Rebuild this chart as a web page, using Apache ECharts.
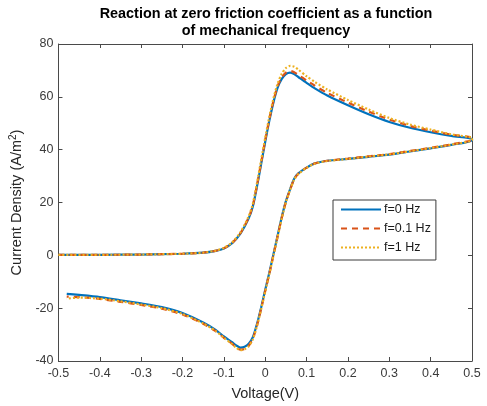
<!DOCTYPE html>
<html>
<head>
<meta charset="utf-8">
<script src="https://cdn.jsdelivr.net/npm/echarts@6/dist/echarts.min.js"></script>
<style>
  html, body { margin: 0; padding: 0; background: #fff; }
  #chart { width: 487px; height: 406px; }
</style>
</head>
<body>
<div id="chart"></div>
<script>
// Cyclic voltammetry sweep: forward scan -0.5 V -> 0.5 V, then reverse back
const voltageForward = [-0.5, -0.4, -0.3, -0.2, -0.15, -0.12, -0.1, -0.08, -0.06, -0.04, -0.03, -0.02, -0.01, 0,
  0.01, 0.02, 0.03, 0.04, 0.05, 0.06, 0.07, 0.08, 0.1, 0.12, 0.15, 0.2, 0.25, 0.3, 0.35, 0.4, 0.45, 0.5];
const voltageReverse = [0.5, 0.45, 0.4, 0.35, 0.3, 0.25, 0.2, 0.15, 0.12, 0.1, 0.08, 0.07, 0.06, 0.05, 0.04, 0.03,
  0.02, 0.01, 0, -0.01, -0.02, -0.03, -0.04, -0.05, -0.06, -0.07, -0.08, -0.1, -0.12, -0.15, -0.2, -0.25,
  -0.3, -0.35, -0.4, -0.45, -0.48];

// Current density (A/m^2) for each mechanical frequency
const f0Forward = [0.2, 0.2, 0.3, 0.6, 1.0, 1.7, 2.6, 4.6, 8.2, 14.0, 18.5, 26.0, 34.5, 43.0,
  51.0, 58.0, 63.5, 66.8, 68.6, 69.2, 68.6, 67.5, 65.3, 63.2, 60.5, 56.8, 53.4, 50.5, 48.3, 46.6, 45.2, 44.1];
const f0Reverse = [43.5, 41.8, 40.5, 39.3, 38.1, 37.3, 36.5, 35.8, 34.8, 33.2, 31.0, 29.0, 25.0, 20.5, 14.5, 7.5,
  0.5, -6.5, -13.0, -19.8, -26.0, -31.0, -33.5, -34.6, -34.9, -34.1, -32.9, -30.7, -28.2, -25.4, -21.8, -19.6,
  -18.2, -17.0, -15.8, -15.0, -14.6];

const f01Forward = [0.2, 0.2, 0.3, 0.6, 1.0, 1.7, 2.7, 4.7, 8.4, 14.3, 18.9, 26.5, 35.0, 43.6,
  51.6, 58.6, 64.1, 67.4, 69.2, 69.8, 69.3, 68.3, 66.2, 64.2, 61.5, 57.8, 54.4, 51.4, 49.0, 47.2, 45.7, 44.5];
const f01Reverse = [43.8, 42.0, 40.7, 39.5, 38.3, 37.5, 36.6, 35.8, 34.8, 33.2, 30.9, 28.8, 24.8, 20.2, 14.2, 7.2,
  0.2, -6.9, -13.5, -20.3, -26.6, -31.6, -34.2, -35.4, -35.7, -34.8, -33.5, -31.2, -28.7, -25.9, -22.4, -20.2,
  -18.8, -17.6, -16.5, -15.8, -15.6];

const f1Forward = [0.2, 0.2, 0.3, 0.6, 1.0, 1.8, 2.8, 4.9, 8.7, 14.8, 19.5, 27.3, 36.0, 44.5,
  52.5, 59.5, 65.0, 68.7, 70.9, 71.7, 71.4, 70.3, 67.8, 65.6, 62.8, 58.8, 55.2, 52.0, 49.5, 47.6, 45.8, 44.4];
const f1Reverse = [43.6, 41.9, 40.6, 39.4, 38.2, 37.4, 36.5, 35.7, 34.7, 33.1, 30.8, 28.7, 24.7, 20.1, 14.0, 7.0,
  0.0, -7.1, -13.7, -20.5, -26.8, -31.8, -34.4, -35.6, -35.9, -35.0, -33.6, -31.2, -28.6, -25.8, -22.2, -20.0,
  -18.6, -17.4, -16.4, -16.0, -16.4];

const seriesNames = ['f=0 Hz', 'f=0.1 Hz', 'f=1 Hz'];
const xTicks = { min: -0.5, max: 0.5, interval: 0.1 };
const yTicks = { min: -40, max: 80, interval: 20 };

function sweep(fwd, rev) {
  return voltageForward.map((v, i) => [v, fwd[i]])
    .concat(voltageReverse.map((v, i) => [v, rev[i]]));
}

const FONT = 'Liberation Sans, Arial, sans-serif';
const axisColor = '#4a4a4a';
const labelFont = { color: '#3a3a3a', fontSize: 12.5, fontFamily: FONT };

function xAxisDef(pos, withLabels) {
  return {
    type: 'value', position: pos, min: xTicks.min, max: xTicks.max, interval: xTicks.interval,
    axisLine: { show: true, onZero: false, lineStyle: { color: axisColor, width: 1 } },
    axisTick: { show: true, inside: true, length: 4, lineStyle: { color: axisColor } },
    axisLabel: Object.assign({ show: withLabels, margin: 6,
      formatter: v => (Math.abs(v) < 1e-9 ? '0' : String(Math.round(v * 10) / 10)) }, labelFont),
    splitLine: { show: false }
  };
}
function yAxisDef(pos, withLabels) {
  return {
    type: 'value', position: pos, min: yTicks.min, max: yTicks.max, interval: yTicks.interval,
    axisLine: { show: true, onZero: false, lineStyle: { color: axisColor, width: 1 } },
    axisTick: { show: true, inside: true, length: 4, lineStyle: { color: axisColor } },
    axisLabel: Object.assign({ show: withLabels, margin: 5 }, labelFont),
    splitLine: { show: false }
  };
}

const xBottom = xAxisDef('bottom', true);
xBottom.name = 'Voltage(V)';
xBottom.nameLocation = 'middle';
xBottom.nameGap = 25;
xBottom.nameTextStyle = { color: '#262626', fontSize: 14.5, fontFamily: FONT };

const yLeft = yAxisDef('left', true);
yLeft.name = 'Current Density (A/m{sup|2})';
yLeft.nameLocation = 'middle';
yLeft.nameGap = 28;
yLeft.nameTextStyle = {
  color: '#262626', fontSize: 14.5, fontFamily: FONT,
  rich: { sup: { fontSize: 10, verticalAlign: 'top', padding: [0, 0, 8, 0], color: '#262626', fontFamily: FONT } }
};

const styles = [
  { color: '#0072BD', width: 2.2, type: 'solid' },
  { color: '#D95319', width: 2.2, type: [6, 5] },
  { color: '#EDB120', width: 2.2, type: [2, 2] }
];
const data = [sweep(f0Forward, f0Reverse), sweep(f01Forward, f01Reverse), sweep(f1Forward, f1Reverse)];

const chart = echarts.init(document.getElementById('chart'), null, { renderer: 'canvas' });
chart.setOption({
  animation: false,
  backgroundColor: '#ffffff',
  title: {
    text: 'Reaction at zero friction coefficient as a function\nof mechanical frequency',
    left: 266, top: 6, padding: 0, textAlign: 'center',
    textStyle: { color: '#000', fontSize: 14.4, fontWeight: 'bold', lineHeight: 17, fontFamily: FONT }
  },
  grid: { left: 57, right: 15, top: 44, bottom: 45, containLabel: false },
  xAxis: [xBottom, xAxisDef('top', false)],
  yAxis: [yLeft, yAxisDef('right', false)],
  legend: {
    orient: 'vertical', left: 333, top: 200,
    data: seriesNames,
    itemWidth: 40, itemHeight: 14, itemGap: 6,
    padding: [3, 5, 6, 7],
    itemStyle: { opacity: 0 },
    backgroundColor: '#fff', borderColor: '#3a3a3a', borderWidth: 1, borderRadius: 0,
    textStyle: { color: '#1a1a1a', fontSize: 12.5, padding: [0, 0, 0, -2], fontFamily: FONT }
  },
  series: seriesNames.map((name, i) => ({
    name, type: 'line', xAxisIndex: 0, yAxisIndex: 0,
    data: data[i], symbol: 'none', showSymbol: false, smooth: 0.25,
    itemStyle: { color: styles[i].color },
    lineStyle: { color: styles[i].color, width: styles[i].width, type: styles[i].type },
    z: 2 + i
  }))
});
</script>
</body>
</html>
